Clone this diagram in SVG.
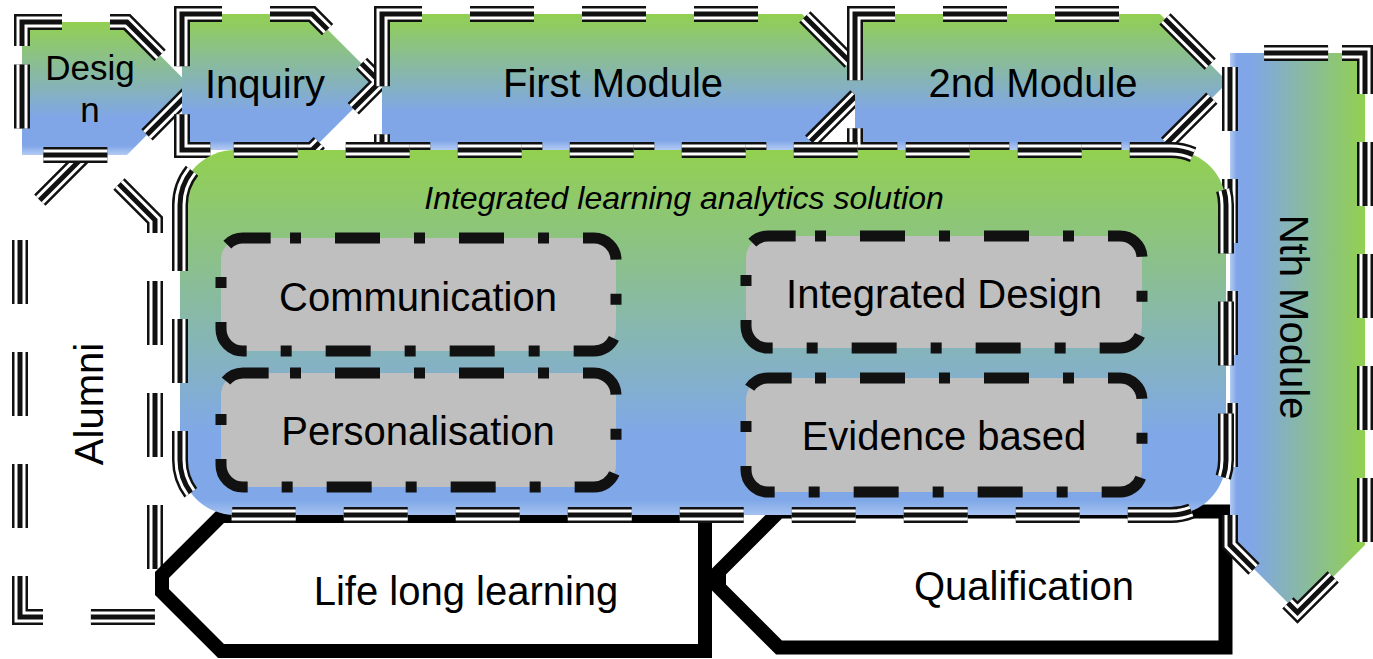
<svg xmlns="http://www.w3.org/2000/svg" width="1373" height="659" viewBox="0 0 1373 659">
<style>
.o1,.o2,.o3{fill:none;stroke-dasharray:64 48;stroke-linejoin:miter;stroke-miterlimit:10}
.o1{stroke:#111;stroke-width:16}
.o2{stroke:#fff;stroke-width:11}
.o3{stroke:#111;stroke-width:5}
.box{fill:#bfbfbf;stroke:#111;stroke-width:11;stroke-dasharray:11 34 45 34;stroke-linejoin:round}
.arr{fill:#fff;stroke:#000;stroke-width:14;stroke-linejoin:miter}
.t{font-family:"Liberation Sans",Arial,sans-serif;font-size:40px;fill:#000;text-anchor:middle}
.ti{font-family:"Liberation Sans",Arial,sans-serif;font-size:32px;font-style:italic;fill:#000;text-anchor:middle}
</style>
<defs>
<linearGradient id="gv" x1="0" y1="0" x2="0" y2="1">
<stop offset="0" stop-color="#92d050"/><stop offset="0.72" stop-color="#80a6e8"/><stop offset="0.93" stop-color="#80a6e8"/><stop offset="1" stop-color="#b4cbf2"/>
</linearGradient>
<linearGradient id="gm" x1="0" y1="0" x2="0" y2="1">
<stop offset="0" stop-color="#92d050"/><stop offset="0.78" stop-color="#80a8e8"/><stop offset="0.96" stop-color="#80a8e8"/><stop offset="1" stop-color="#a6c2f0"/>
</linearGradient>
<linearGradient id="gh" x1="0" y1="0" x2="1" y2="0">
<stop offset="0" stop-color="#b4cbf2"/><stop offset="0.05" stop-color="#80a6e8"/><stop offset="0.15" stop-color="#80a6e8"/><stop offset="1" stop-color="#92d050"/>
</linearGradient>
<path id="p-alumni" d="M43,617 H20 V220 L87.5,152.5 L155,220 V617 Z"/>
<path id="p-design" d="M22,46 V22 H127 L193,88.5 L127,155 H22 Z"/>
<path id="p-inquiry" d="M182,38 V14 H312 L380,82 L312,150 H182 Z"/>
<path id="p-first" d="M382,38 V14 H802 L870,82 L802,150 H382 Z"/>
<path id="p-second" d="M855,38 V14 H1160 L1228,82 L1160,150 H855 Z"/>
<path id="p-nth" d="M1342,53 H1365 V545 L1297.5,612.5 L1230,545 V53 Z"/>
<path id="p-main" d="M180,232 V205 A55,55 0 0 1 235,150 H1171 A55,55 0 0 1 1226,205 V460 A55,55 0 0 1 1171,515 H235 A55,55 0 0 1 180,460 Z"/>
</defs>

<g id="node-alumni">
<use href="#p-alumni" fill="none"/>
<use href="#p-alumni" class="o1"/><use href="#p-alumni" class="o2"/><use href="#p-alumni" class="o3"/>
<text class="t" transform="translate(103,404) rotate(-90)">Alumni</text>
</g>

<g id="node-lifelong">
<path class="arr" d="M221,516 H705 V651 H221 L162,592 V575 Z"/>
<text class="t" x="466" y="605">Life long learning</text>
</g>

<g id="node-qualification">
<path class="arr" d="M779,511.5 H1225.5 V647.5 H779 L719,587.5 V571.5 Z"/>
<text class="t" x="1024" y="600">Qualification</text>
</g>

<g id="node-design">
<use href="#p-design" fill="url(#gv)"/>
<use href="#p-design" class="o1"/><use href="#p-design" class="o2"/><use href="#p-design" class="o3"/>
<text class="t" style="font-size:35px" x="90" y="80">Desig</text>
<text class="t" style="font-size:35px" x="90" y="122">n</text>
</g>

<g id="node-inquiry">
<use href="#p-inquiry" fill="url(#gv)"/>
<use href="#p-inquiry" class="o1"/><use href="#p-inquiry" class="o2"/><use href="#p-inquiry" class="o3"/>
<text class="t" x="265" y="98">Inquiry</text>
</g>

<g id="node-first">
<use href="#p-first" fill="url(#gv)"/>
<use href="#p-first" class="o1"/><use href="#p-first" class="o2"/><use href="#p-first" class="o3"/>
<text class="t" x="613" y="97">First Module</text>
</g>

<g id="node-second">
<use href="#p-second" fill="url(#gv)"/>
<use href="#p-second" class="o1"/><use href="#p-second" class="o2"/><use href="#p-second" class="o3"/>
<text class="t" x="1033" y="97">2nd Module</text>
</g>

<g id="node-nth">
<use href="#p-nth" fill="url(#gh)"/>
<use href="#p-nth" class="o1"/><use href="#p-nth" class="o2"/><use href="#p-nth" class="o3"/>
<text class="t" transform="translate(1280,317) rotate(90)">Nth Module</text>
</g>

<g id="node-main">
<use href="#p-main" fill="url(#gm)"/>
<use href="#p-main" class="o1"/><use href="#p-main" class="o2"/><use href="#p-main" class="o3"/>
<text class="ti" x="684" y="209">Integrated learning analytics solution</text>
</g>

<g id="node-communication">
<path class="box" d="M290,238 H594 A22,22 0 0 1 616,260 V329 A22,22 0 0 1 594,351 H243 A22,22 0 0 1 221,329 V260 A22,22 0 0 1 243,238 Z"/>
<text class="t" x="418" y="311">Communication</text>
</g>

<g id="node-personalisation">
<path class="box" d="M290,373 H594 A22,22 0 0 1 616,395 V465 A22,22 0 0 1 594,487 H243 A22,22 0 0 1 221,465 V395 A22,22 0 0 1 243,373 Z"/>
<text class="t" x="418" y="445">Personalisation</text>
</g>

<g id="node-integrated">
<path class="box" d="M815,236 H1120 A22,22 0 0 1 1142,258 V326 A22,22 0 0 1 1120,348 H768 A22,22 0 0 1 746,326 V258 A22,22 0 0 1 768,236 Z"/>
<text class="t" x="944" y="308">Integrated Design</text>
</g>

<g id="node-evidence">
<path class="box" d="M815,378 H1120 A22,22 0 0 1 1142,400 V470 A22,22 0 0 1 1120,492 H768 A22,22 0 0 1 746,470 V400 A22,22 0 0 1 768,378 Z"/>
<text class="t" x="944" y="450">Evidence based</text>
</g>

<g id="connectors"></g>
</svg>
